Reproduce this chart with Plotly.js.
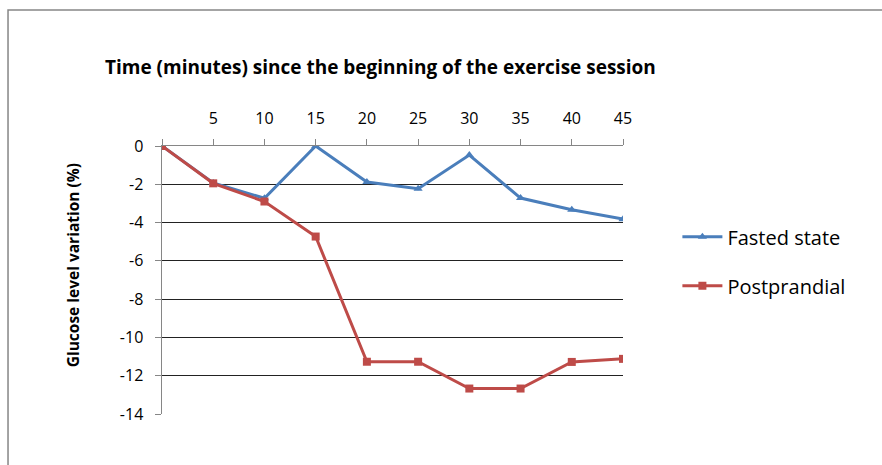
<!DOCTYPE html>
<html>
<head>
<meta charset="utf-8">
<script src="https://cdn.plot.ly/plotly-3.0.1.min.js"></script>
<style>html,body{margin:0;padding:0;background:#fff;}#chart{width:882px;height:465px;}</style>
</head>
<body>
<div id="chart"></div>
<script>
const minutes = [0, 5, 10, 15, 20, 25, 30, 35, 40, 45];
const fastedState = [0, -1.93, -2.73, 0, -1.88, -2.23, -0.47, -2.72, -3.33, -3.82];
const postprandial = [0, -1.95, -2.9, -4.73, -11.27, -11.27, -12.67, -12.67, -11.28, -11.12];
const xTickLabels = ['', '5', '10', '15', '20', '25', '30', '35', '40', '45'];
const yTicks = [0, -2, -4, -6, -8, -10, -12, -14];
const yTickLabels = ['0', '-2', '-4', '-6', '-8', '-10', '-12', '-14'];

const traces = [
  {x: minutes, y: fastedState, name: 'Fasted state', type: 'scatter', mode: 'lines+markers',
   line: {color: '#4a7ebb', width: 3}, marker: {symbol: 'triangle-up', size: 8, color: '#4a7ebb'},
   legendgroup: 'a'},
  {x: minutes, y: postprandial, name: 'Postprandial', type: 'scatter', mode: 'lines+markers',
   line: {color: '#be4b48', width: 3}, marker: {symbol: 'square', size: 8, color: '#be4b48'},
   legendgroup: 'b'}
];

const layout = {
  width: 882, height: 465,
  margin: {l: 162, r: 259, t: 146, b: 51},
  paper_bgcolor: '#fff', plot_bgcolor: '#fff',
  font: {family: '"Open Sans", "Noto Sans", sans-serif', color: '#000', size: 15},
  showlegend: true,
  legend: {x: 1.118, y: 0.57, xanchor: 'left', yanchor: 'middle', font: {size: 20}, tracegroupgap: 20, itemwidth: 40},
  xaxis: {
    side: 'top', range: [0, 45], tickvals: minutes, ticktext: xTickLabels,
    ticks: 'outside', ticklen: 6, tickcolor: '#868686', showline: true, linecolor: '#868686', linewidth: 1.5,
    showgrid: false, zeroline: false, tickfont: {size: 16}, ticklabelstandoff: 8
  },
  yaxis: {
    range: [-14, 0], tickvals: yTicks, ticktext: yTickLabels, ticks: 'outside', ticklen: 6, tickcolor: '#868686',
    showline: true, linecolor: '#868686', linewidth: 1.5, showgrid: true, gridcolor: '#222', gridwidth: 1,
    zeroline: false, tickfont: {size: 16}, ticklabelstandoff: 8
  },
  annotations: [
    {text: '<b>Time (minutes) since the beginning of the exercise session</b>', xref: 'paper', yref: 'paper',
     x: 0.475, y: 1.293, xanchor: 'center', yanchor: 'middle', showarrow: false, font: {size: 19}},
    {text: '<b>Glucose level variation (%)</b>', xref: 'paper', yref: 'paper', textangle: -90,
     x: -0.193, y: 0.555, xanchor: 'center', yanchor: 'middle', showarrow: false, font: {size: 15.5}}
  ],
  shapes: [{type: 'rect', xref: 'paper', yref: 'paper', x0: -0.334, x1: 1.8, y0: -0.5, y1: 1.507,
            line: {color: '#868686', width: 1.5}, fillcolor: 'rgba(0,0,0,0)'}]
};
Plotly.newPlot('chart', traces, layout, {displayModeBar: false, staticPlot: true});
</script>
</body>
</html>
